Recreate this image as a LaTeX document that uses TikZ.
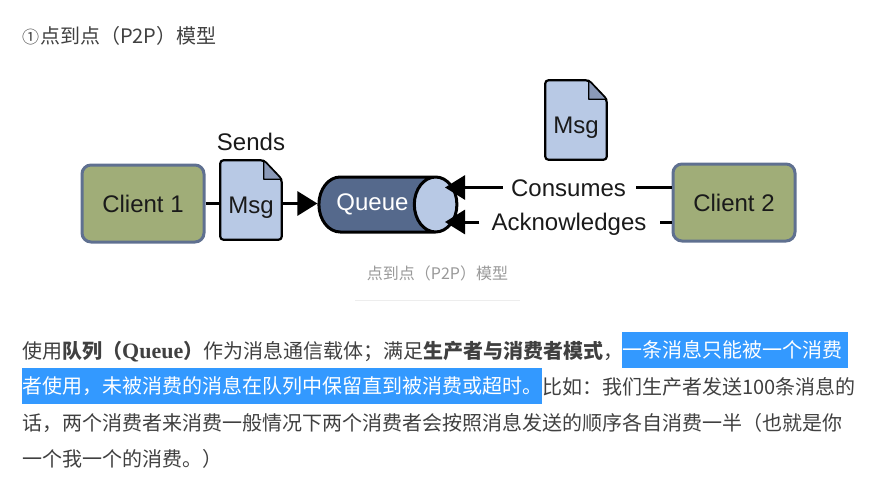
\documentclass[tikz,border=0pt]{standalone}
\usepackage{fontspec}
\setmainfont{Noto Sans CJK SC}
\newfontfamily\labelfont{Liberation Sans}
\newfontfamily\queuefont{Liberation Serif}
\usetikzlibrary{shapes.geometric,backgrounds,arrows.meta}
\definecolor{clientgreen}{HTML}{A0AD78}
\definecolor{clientline}{HTML}{5F7090}
\definecolor{docblue}{HTML}{B8C9E5}
\definecolor{docfold}{HTML}{8A99B8}
\definecolor{queuedark}{HTML}{55698C}
\definecolor{ink}{HTML}{1A1A1A}
\definecolor{bodytext}{HTML}{404040}
\definecolor{markblue}{HTML}{3399FF}
\tikzset{
  client/.style={draw=clientline, line width=3pt, fill=clientgreen, rounded corners=9pt, minimum width=122pt, minimum height=77pt, inner sep=0pt, text=ink, font=\labelfont\fontsize{24}{24}\selectfont},
  msgbox/.style={minimum width=61pt, minimum height=79pt, inner sep=0pt, text=ink, text height=31pt, text depth=5pt, font=\labelfont\fontsize{24}{24}\selectfont},
  doc/.style={draw=black, line width=2.2pt, fill=docblue, line join=round},
  fold/.style={draw=black, line width=1.2pt, fill=docfold, line join=round},
  flowlabel/.style={inner sep=0pt, text=ink, text height=22pt, text depth=5pt, font=\labelfont\fontsize{24}{24}\selectfont},
  flow/.style={draw=black, line width=3pt, -{Triangle[length=20pt,width=24pt]}},
  plainline/.style={draw=black, line width=3pt},
  bodyline/.style={anchor=base west, inner sep=0pt, text=bodytext, font=\fontsize{20}{20}\selectfont},
  markline/.style={anchor=west, fill=markblue, text=white, inner sep=0pt, minimum height=36pt, align=left, font=\fontsize{20}{20}\selectfont},
}
\newcommand{\docpage}[1]{
  \draw[doc, rounded corners=3pt] (#1.south west) -- (#1.north west) -- ([xshift=-18pt]#1.north east) -- ([yshift=-19pt]#1.north east) -- (#1.south east) -- cycle;
  \draw[fold] ([xshift=-18pt]#1.north east) -- ([xshift=-18pt,yshift=-19pt]#1.north east) -- ([yshift=-19pt]#1.north east) -- cycle;
}
\begin{document}
\begin{tikzpicture}[x=1pt,y=-1pt]
\useasboundingbox (0,0) rectangle (890,492);

% Heading
\node[bodyline] (title) at (22,44) {{\fontsize{17}{17}\selectfont ①}\hspace{1pt}点到点（P2P）模型};

% Clients
\node[client] (clientone) at (143,203.5) {Client 1};
\node[client] (clienttwo) at (734,202.5) {Client 2};

% Messages
\node[msgbox] (msgone) at (251,200) {Msg};
\node[msgbox] (msgtwo) at (576,120) {Msg};
\node[flowlabel] (sends) at (251,141.5) {Sends};

% Queue
\node[cylinder, shape border rotate=0, aspect=2, draw=black, line width=3pt, cylinder uses custom fill, cylinder body fill=queuedark, cylinder end fill=docblue, minimum width=55pt, minimum height=138pt, inner sep=0pt, text=white, font=\labelfont\fontsize{24}{24}\selectfont] (queue) at (376.5,204.5) {\hspace*{-8pt}Queue};

% Labels on the lines
\node[flowlabel] (consumes) at (568.5,187.5) {Consumes};
\node[flowlabel] (acks) at (569,222) {Acknowledges};
\coordinate (consumetip) at (445,187.5);
\coordinate (acktip) at (445,222);

% Connectors
\begin{scope}[on background layer]
\draw[flow] (clientone.east) -- (clientone.east -| queue.west);
\docpage{msgone}
\docpage{msgtwo}
\end{scope}
\draw[plainline] (clienttwo.west |- consumes) -- ++(-36,0);
\draw[flow] ([xshift=-8pt]consumes.west) -- (consumetip);
\draw[plainline] (clienttwo.west |- acks) -- ++(-12,0);
\draw[flow] ([xshift=-12pt]acks.west) -- (acktip);

% Caption
\node[inner sep=0pt, text=black!40, font=\fontsize{16}{16}\selectfont] (caption) at (437.5,273) {点到点（P2P）模型};
\coordinate (ruleleft) at (355,300);
\coordinate (ruleright) at (520,300);
\draw[black!7, line width=1pt] (ruleleft) -- (ruleright);

% Body text
\node[bodyline] (lineone) at (22,358) {使用\textbf{队列（{\queuefont\fontsize{22}{22}\selectfont Queue}）}作为消息通信载体；满足\textbf{生产者与消费者模式}，};
\node[markline, text width=226pt] (markone) at (622,350) {一条消息只能被一个消费};
\node[markline, text width=520pt] (marktwo) at (22,386) {者使用，未被消费的消息在队列中保留直到被消费或超时。};
\node[bodyline] (linetwo) at (542,394) {比如：我们生产者发送100条消息的};
\node[bodyline] (linethree) at (22,430) {话，两个消费者来消费一般情况下两个消费者会按照消息发送的顺序各自消费一半（也就是你};
\node[bodyline] (linefour) at (22,466) {一个我一个的消费。）};
\end{tikzpicture}
\end{document}
